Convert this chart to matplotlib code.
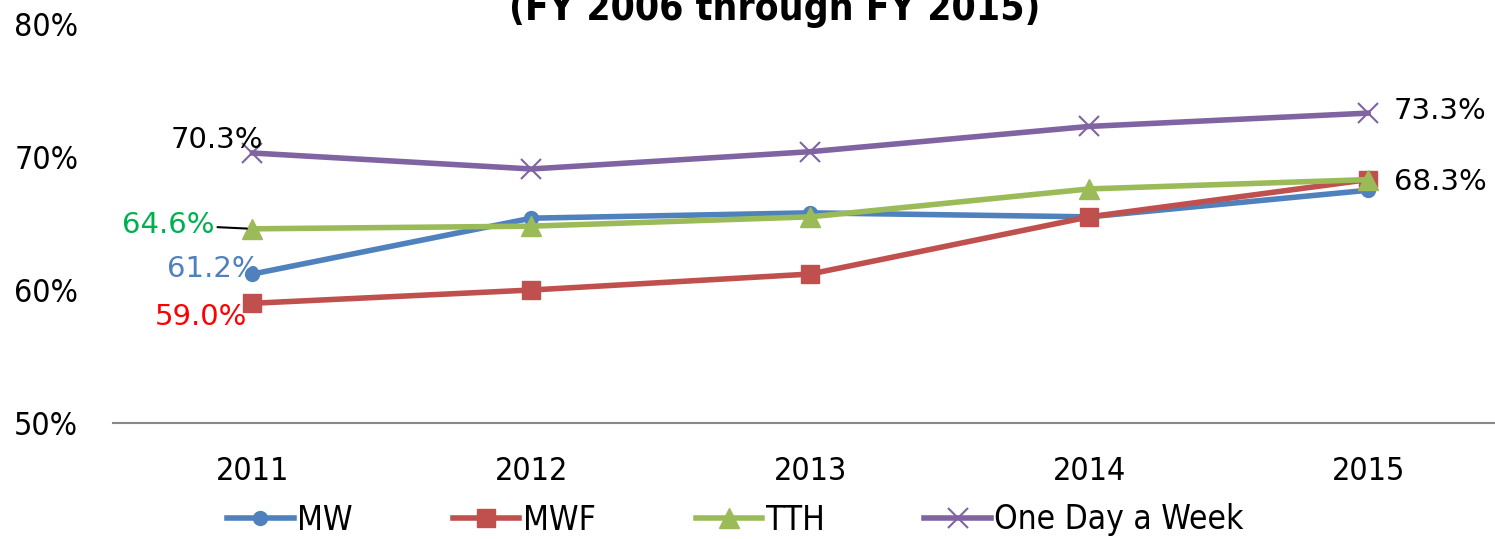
import matplotlib
matplotlib.use("Agg")
import matplotlib.pyplot as plt
from matplotlib.ticker import FuncFormatter

plt.rcParams['font.family'] = ['DejaVu Sans']
plt.rcParams['font.stretch'] = 'condensed'

# Data
years = ['2011', '2012', '2013', '2014', '2015']
mw = [61.2, 65.4, 65.8, 65.5, 67.5]
mwf = [59.0, 60.0, 61.2, 65.5, 68.3]
tth = [64.6, 64.8, 65.5, 67.6, 68.3]
one_day = [70.3, 69.1, 70.4, 72.3, 73.3]

title = '(FY 2006 through FY 2015)'

fig = plt.figure(figsize=(14.95, 5.39), dpi=100)
ax = fig.add_axes([113 / 1495, 116 / 539, 1 - 113 / 1495, 399 / 539])

x = range(len(years))
ax.plot(x, mw, color='#4F81BD', lw=4, marker='o', ms=10, label='MW')
ax.plot(x, mwf, color='#C0504D', lw=4, marker='s', ms=13, label='MWF')
ax.plot(x, tth, color='#9BBB59', lw=4, marker='^', ms=14, label='TTH')
ax.plot(x, one_day, color='#8064A2', lw=4, marker='x', ms=14, mew=1.5,
        label='One Day a Week')

ax.set_xlim(-0.5, 4.455)
ax.set_ylim(50, 80)
ax.set_yticks([50, 60, 70, 80])
ax.yaxis.set_major_formatter(FuncFormatter(lambda v, p: f'{v:.0f}%'))
ax.set_xticks(list(x))
ax.set_xticklabels(years)
ax.tick_params(axis='both', length=0, labelsize=23)
ax.tick_params(axis='x', pad=24)
ax.tick_params(axis='y', pad=25)
for s in ['top', 'right', 'left']:
    ax.spines[s].set_visible(False)
ax.spines['bottom'].set_color('#888888')
ax.spines['bottom'].set_linewidth(1.5)

lab = dict(fontsize=21, stretch='normal', ha='center', va='center',
           textcoords='offset pixels')
ax.annotate(f'{one_day[0]:.1f}%', (0, one_day[0]), xytext=(-36, 13), color='black', **lab)
ax.annotate(f'{tth[0]:.1f}%', (0, tth[0]), xytext=(-84, 4), color='#00B050',
            arrowprops=dict(arrowstyle='-', color='black', lw=1.5,
                            shrinkA=48, shrinkB=4), **lab)
ax.annotate(f'{mw[0]:.1f}%', (0, mw[0]), xytext=(-39, 5), color='#4F81BD', **lab)
ax.annotate(f'{mwf[0]:.1f}%', (0, mwf[0]), xytext=(-52, -14), color='#FF0000', **lab)
ax.annotate(f'{one_day[4]:.1f}%', (4, one_day[4]), xytext=(72, 2), color='black', **lab)
ax.annotate(f'{mwf[4]:.1f}%', (4, mwf[4]), xytext=(72, -2), color='black', **lab)

fig.legend(loc='center', bbox_to_anchor=(0.492, 19 / 539), ncol=4, frameon=False,
           fontsize=24, handlelength=2.0, columnspacing=3.0, handletextpad=0.1)

fig.text(0.518, 1 - 9 / 539, title, ha='center', va='center', fontsize=28,
         fontweight='bold')

fig.savefig('out.png', dpi=100)
